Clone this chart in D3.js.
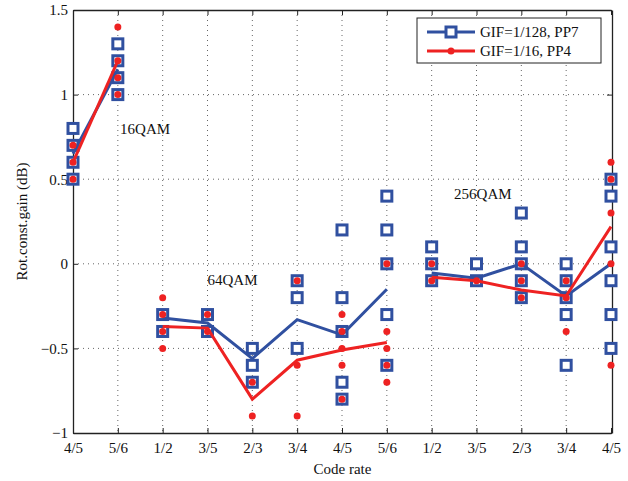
<!DOCTYPE html>
<html>
<head>
<meta charset="utf-8">
<script src="https://cdn.jsdelivr.net/npm/d3@7"></script>
<style>
body { margin: 0; background: #fff; }
text { font-family: "Liberation Serif", "Times New Roman", serif; }
</style>
</head>
<body>
<script>
// categories along x
var rates = ["4/5","5/6","1/2","3/5","2/3","3/4","4/5","5/6","1/2","3/5","2/3","3/4","4/5"];
// modulation group of each category (lines break between groups)
var modGroup = [0,0,1,1,1,1,1,1,2,2,2,2,2];
var yTicks = [-1, -0.5, 0, 0.5, 1, 1.5];

// mean lines
var blueMean = [0.65, 1.15, -0.32, -0.35, -0.56, -0.33, -0.42, -0.15, -0.055, -0.085, 0.0, -0.19, 0.0];
var redMean  = [0.60, 1.20, -0.37, -0.38, -0.80, -0.57, -0.51, -0.465, -0.08, -0.10, -0.155, -0.19, 0.22];

// individual measurements per code rate
var bluePts = [
	[0.8, 0.7, 0.6, 0.5],
	[1.3, 1.2, 1.1, 1.0],
	[-0.3, -0.4],
	[-0.3, -0.4],
	[-0.5, -0.6, -0.7],
	[-0.1, -0.2, -0.5],
	[0.2, -0.2, -0.4, -0.7, -0.8],
	[0.4, 0.2, 0.0, -0.3, -0.6],
	[0.1, 0.0, -0.1],
	[0.0, -0.1],
	[0.3, 0.1, 0.0, -0.1, -0.2],
	[0.0, -0.1, -0.2, -0.3, -0.6],
	[0.5, 0.4, 0.1, -0.1, -0.3, -0.5]
];
var redPts = [
	[0.7, 0.6, 0.5],
	[1.4, 1.2, 1.1, 1.0],
	[-0.2, -0.3, -0.4, -0.5],
	[-0.3, -0.4],
	[-0.7, -0.9],
	[-0.1, -0.6, -0.9],
	[-0.3, -0.4, -0.5, -0.6, -0.8],
	[0.0, -0.4, -0.5, -0.6, -0.7],
	[0.0, -0.1],
	[-0.1],
	[0.0, -0.1, -0.2],
	[-0.1, -0.2, -0.4],
	[0.6, 0.5, 0.3, 0.0, -0.6]
];

var seriesNames = ["GIF=1/128, PP7", "GIF=1/16, PP4"];
var groupLabels = ["16QAM", "64QAM", "256QAM"];
var labelPos = [1.05, 3.0, 8.5];     // in category units
var labelVal = [0.77, -0.125, 0.385];

function init(){
	var w = 628, h = 481;
	var pLeft = 73, pRight = 612, pTop = 10, pBottom = 433;
	var blue = "#3050a0", red = "#ee2222";

	var svg = d3.select("body").append("svg")
		.attr("width", w)
		.attr("height", h);

	var xScale = d3.scalePoint()
		.domain(d3.range(rates.length))
		.range([pLeft, pRight - 1]);
	var xPos = d3.scaleLinear()
		.domain([0, rates.length - 1])
		.range([pLeft, pRight - 1]);

	var yScale = d3.scaleLinear()
		.domain([-1, 1.5])
		.range([pBottom, pTop]);

	// grid
	svg.append("g").selectAll("line")
		.data(d3.range(1, rates.length - 1))
		.enter().append("line")
		.attr("x1", function(d){ return xScale(d); })
		.attr("x2", function(d){ return xScale(d); })
		.attr("y1", pTop).attr("y2", pBottom)
		.attr("stroke", "#666").attr("stroke-width", 1)
		.attr("stroke-dasharray", "1,4");

	svg.append("g").selectAll("line")
		.data(yTicks.slice(1, -1))
		.enter().append("line")
		.attr("y1", function(d){ return yScale(d); })
		.attr("y2", function(d){ return yScale(d); })
		.attr("x1", pLeft).attr("x2", pRight)
		.attr("stroke", "#666").attr("stroke-width", 1)
		.attr("stroke-dasharray", "1,4");

	// axes
	var xAxis = d3.axisBottom(xScale).tickSizeInner(-5).tickSizeOuter(0).tickPadding(9)
		.tickFormat(function(d){ return rates[d]; });
	var gx = svg.append("g")
		.attr("transform", "translate(0," + pBottom + ")")
		.call(xAxis);
	var yAxis = d3.axisLeft(yScale).tickValues(yTicks).tickSizeInner(-5).tickSizeOuter(0).tickPadding(5)
		.tickFormat(d3.format("~g"));
	var gy = svg.append("g")
		.attr("transform", "translate(" + pLeft + ",0)")
		.call(yAxis);
	var gt = svg.append("g")
		.attr("transform", "translate(0," + pTop + ")")
		.call(d3.axisTop(xScale).tickSizeInner(-5).tickSizeOuter(0).tickFormat(""));
	var gr = svg.append("g")
		.attr("transform", "translate(" + pRight + ",0)")
		.call(d3.axisRight(yScale).tickValues(yTicks).tickSizeInner(-5).tickSizeOuter(0).tickFormat(""));

	[gx, gy, gt, gr].forEach(function(g){
		g.selectAll("text").style("font-size", "15px").attr("fill", "#111");
		g.selectAll("line").attr("stroke", "#222");
		g.select(".domain").attr("stroke", "#222").attr("stroke-width", 1.3);
	});

	// flatten points
	var bq = [];
	bluePts.forEach(function(arr, i){ arr.forEach(function(v){ bq.push({i: i, v: v}); }); });
	var rq = [];
	redPts.forEach(function(arr, i){ arr.forEach(function(v){ rq.push({i: i, v: v}); }); });

	svg.append("g").selectAll("rect")
		.data(bq)
		.enter().append("rect")
		.attr("x", function(d){ return xScale(d.i) - 5; })
		.attr("y", function(d){ return yScale(d.v) - 5; })
		.attr("width", 10).attr("height", 10)
		.attr("fill", "#fff")
		.attr("stroke", blue).attr("stroke-width", 3);

	var line = d3.line()
		.x(function(d){ return xScale(d.i); })
		.y(function(d){ return yScale(d.v); });

	// split a mean series into one segment per modulation group
	function segments(vals){
		return d3.groups(vals.map(function(v, i){ return {i: i, v: v, g: modGroup[i]}; }),
			function(d){ return d.g; }).map(function(e){ return e[1]; });
	}

	svg.append("g").selectAll("path")
		.data(segments(blueMean))
		.enter().append("path")
		.attr("d", line)
		.attr("fill", "none")
		.attr("stroke", blue).attr("stroke-width", 3);

	svg.append("g").selectAll("circle")
		.data(rq)
		.enter().append("circle")
		.attr("cx", function(d){ return xScale(d.i); })
		.attr("cy", function(d){ return yScale(d.v); })
		.attr("r", 3.5)
		.attr("fill", red);

	svg.append("g").selectAll("path")
		.data(segments(redMean))
		.enter().append("path")
		.attr("d", line)
		.attr("fill", "none")
		.attr("stroke", red).attr("stroke-width", 3);

	// group labels
	svg.append("g").selectAll("text")
		.data(groupLabels)
		.enter().append("text")
		.attr("x", function(d, i){ return xPos(labelPos[i]); })
		.attr("y", function(d, i){ return yScale(labelVal[i]); })
		.style("font-size", "15px")
		.attr("fill", "#111")
		.text(function(d){ return d; });

	// legend
	var lg = svg.append("g").attr("transform", "translate(417,18)");
	lg.append("rect")
		.attr("width", 184).attr("height", 45)
		.attr("fill", "#fff").attr("stroke", "#222").attr("stroke-width", 1);
	lg.append("line").attr("x1", 10).attr("x2", 58).attr("y1", 14).attr("y2", 14)
		.attr("stroke", blue).attr("stroke-width", 3);
	lg.append("rect").attr("x", 29).attr("y", 9).attr("width", 10).attr("height", 10)
		.attr("fill", "#fff").attr("stroke", blue).attr("stroke-width", 3);
	lg.append("line").attr("x1", 10).attr("x2", 58).attr("y1", 33).attr("y2", 33)
		.attr("stroke", red).attr("stroke-width", 3);
	lg.append("circle").attr("cx", 34).attr("cy", 33).attr("r", 3.5).attr("fill", red);
	lg.selectAll("text.lab")
		.data(seriesNames)
		.enter().append("text")
		.attr("class", "lab")
		.attr("x", 63)
		.attr("y", function(d, i){ return 19 + i * 19; })
		.style("font-size", "15px")
		.attr("fill", "#111")
		.text(function(d){ return d; });

	// axis titles
	svg.append("text")
		.attr("x", (pLeft + pRight) / 2)
		.attr("y", 474)
		.attr("text-anchor", "middle")
		.style("font-size", "15px")
		.attr("fill", "#111")
		.text("Code rate");

	svg.append("text")
		.attr("transform", "translate(27," + ((pTop + pBottom) / 2) + ") rotate(-90)")
		.attr("text-anchor", "middle")
		.style("font-size", "15px")
		.attr("fill", "#111")
		.text("Rot.const.gain (dB)");
}

init();
</script>
</body>
</html>
